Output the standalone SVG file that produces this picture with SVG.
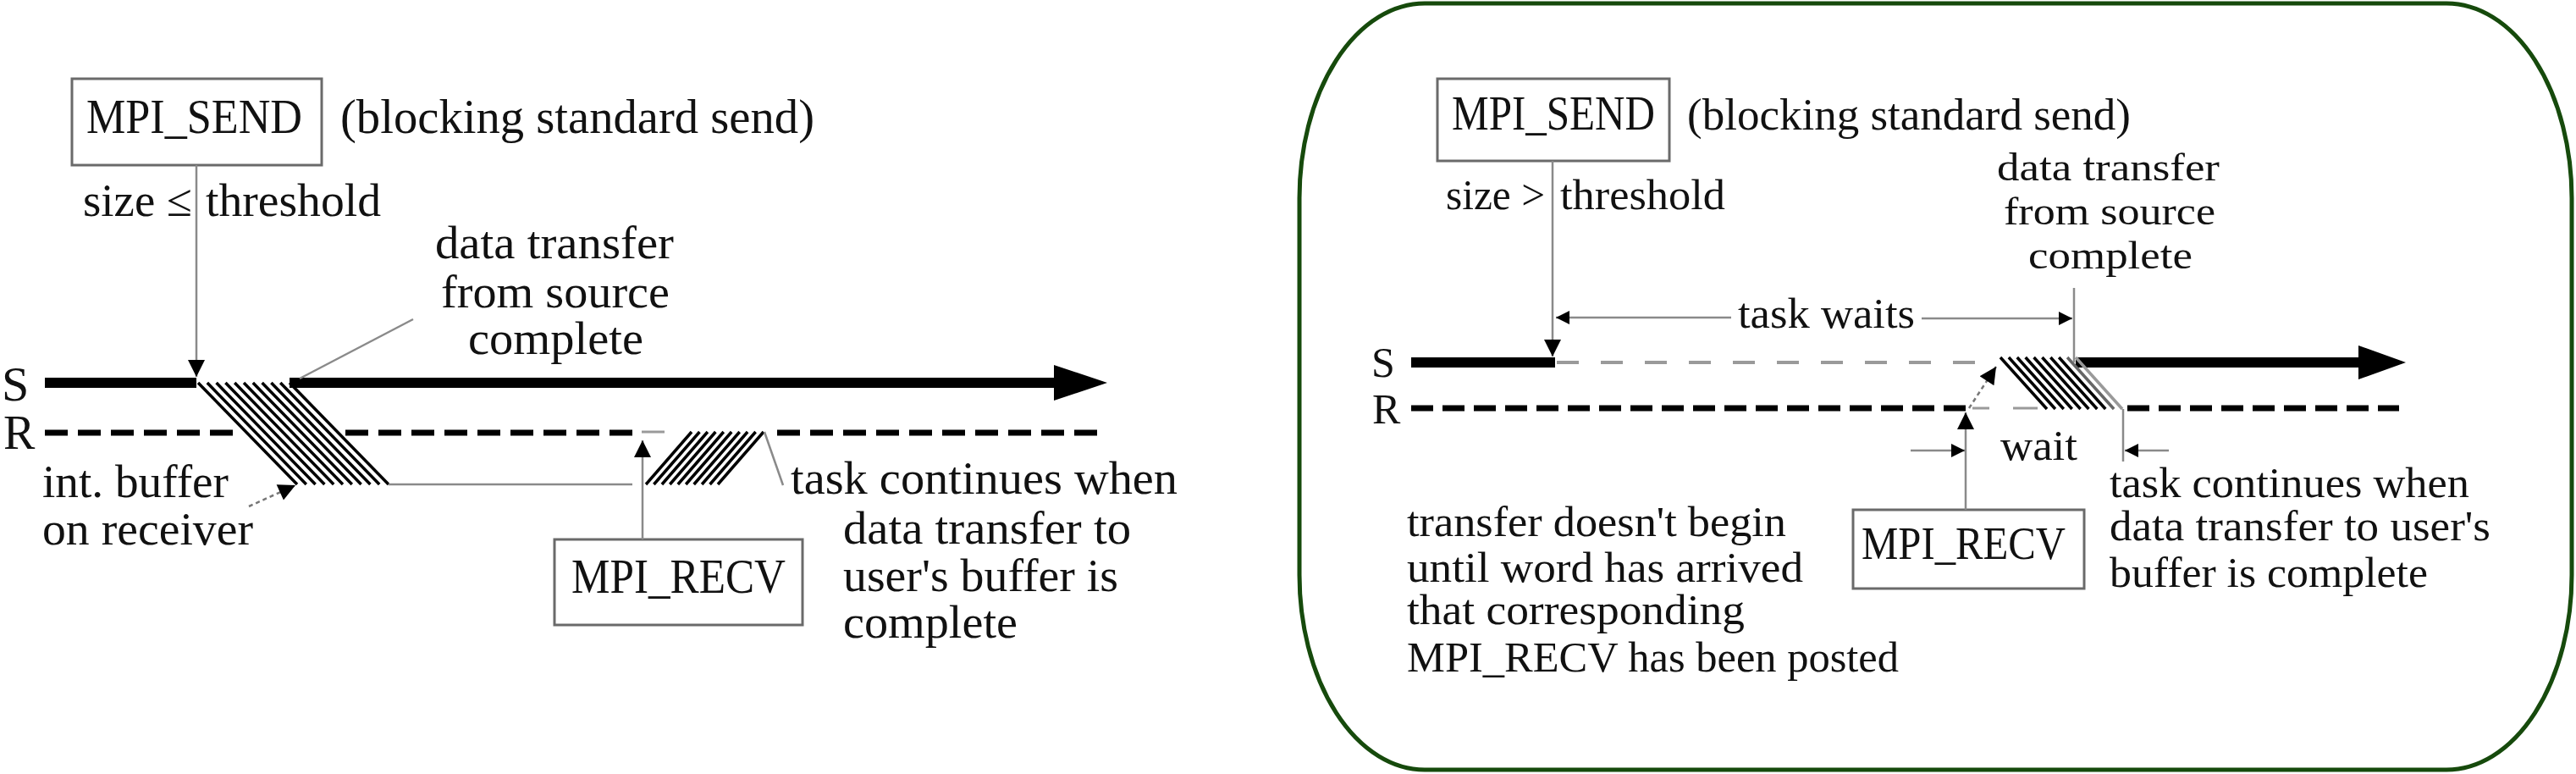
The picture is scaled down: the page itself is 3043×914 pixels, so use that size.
<svg xmlns="http://www.w3.org/2000/svg" width="3043" height="914" viewBox="0 0 3043 914">
<style>
.t{font-family:"Liberation Serif","Times New Roman",serif;fill:#111}
.l{font-size:54px}
.r{font-size:50px}
.box{fill:#fff;stroke:#6a6a6a;stroke-width:3}
.thin{stroke:#8a8a8a;stroke-width:2.5;fill:none}
.dot{stroke:#777;stroke-width:2.5;fill:none;stroke-dasharray:5 4}
.thick{stroke:#000;stroke-width:12;fill:none}
.rdash{stroke:#000;stroke-width:7;fill:none;stroke-dasharray:27 12}
.rdash2{stroke:#000;stroke-width:7;fill:none;stroke-dasharray:26 11}
.gdash{stroke:#9a9a9a;stroke-width:4;fill:none;stroke-dasharray:26 26}
.gthin{stroke:#9a9a9a;stroke-width:3;fill:none}
.hatch line{stroke:#000;stroke-width:3.5}
</style>
<defs>
<marker id="ah" viewBox="0 0 10 10" refX="10" refY="5" markerWidth="22" markerHeight="20" markerUnits="userSpaceOnUse" orient="auto">
<path d="M0,0 L10,5 L0,10 z" fill="#000"/>
</marker>
<marker id="ahs" viewBox="0 0 10 10" refX="10" refY="5" markerWidth="26" markerHeight="16" markerUnits="userSpaceOnUse" orient="auto">
<path d="M0,0 L10,5 L0,10 z" fill="#000"/>
</marker>
</defs>
<rect width="3043" height="914" fill="#fff"/>

<!-- right panel frame -->
<rect id="right-frame" x="1535" y="4" width="1503" height="905" rx="148" ry="230" fill="none" stroke="#164a0c" stroke-width="5"/>

<!-- ===== LEFT PANEL ===== -->
<g id="left-timelines">
<text class="t" x="2" y="473" font-size="58">S</text>
<text class="t" x="4" y="530" font-size="56">R</text>
<path class="thick" d="M53 452 H232"/>
<path class="thick" d="M342 452 H1250"/>
<polygon points="1245,431 1308,452 1245,473" fill="#000"/>
<path class="rdash" d="M53 511 H280"/>
<path class="rdash" d="M408 511 H748"/>
<path class="gthin" d="M758 510 H785"/>
<path class="rdash" d="M918 511 H1300"/>
</g>

<g id="left-hatch-source" class="hatch">
<line x1="234" y1="452" x2="351" y2="572"/>
<line x1="244.8" y1="452" x2="361.8" y2="572"/>
<line x1="255.6" y1="452" x2="372.6" y2="572"/>
<line x1="266.4" y1="452" x2="383.4" y2="572"/>
<line x1="277.2" y1="452" x2="394.2" y2="572"/>
<line x1="288" y1="452" x2="405" y2="572"/>
<line x1="298.8" y1="452" x2="415.8" y2="572"/>
<line x1="309.6" y1="452" x2="426.6" y2="572"/>
<line x1="320.4" y1="452" x2="437.4" y2="572"/>
<line x1="331.2" y1="452" x2="448.2" y2="572"/>
<line x1="342" y1="452" x2="459" y2="572"/>
</g>

<g id="left-hatch-recv" class="hatch">
<line x1="763" y1="572" x2="817" y2="510"/>
<line x1="772.4" y1="572" x2="826.4" y2="510"/>
<line x1="781.9" y1="572" x2="835.9" y2="510"/>
<line x1="791.3" y1="572" x2="845.3" y2="510"/>
<line x1="800.8" y1="572" x2="854.8" y2="510"/>
<line x1="810.2" y1="572" x2="864.2" y2="510"/>
<line x1="819.7" y1="572" x2="873.7" y2="510"/>
<line x1="829.1" y1="572" x2="883.1" y2="510"/>
<line x1="838.6" y1="572" x2="892.6" y2="510"/>
<line x1="848" y1="572" x2="902" y2="510"/>
</g>

<g id="left-send">
<rect class="box" x="85" y="93" width="295" height="102"/>
<text class="t" x="102" y="157" font-size="58" textLength="255" lengthAdjust="spacingAndGlyphs">MPI_SEND</text>
</g>
<g id="left-send-note">
<text class="t" x="402" y="157" font-size="56" textLength="560" lengthAdjust="spacingAndGlyphs">(blocking standard send)</text>
</g>
<g id="left-cond">
<text class="t l" x="98" y="255" textLength="129" lengthAdjust="spacingAndGlyphs">size ≤</text>
<text class="t l" x="243" y="255" textLength="207" lengthAdjust="spacingAndGlyphs">threshold</text>
</g>
<g id="left-src-complete">
<text class="t l" x="514" y="305" textLength="282" lengthAdjust="spacingAndGlyphs">data transfer</text>
<text class="t l" x="521" y="363" textLength="270" lengthAdjust="spacingAndGlyphs">from source</text>
<text class="t l" x="553" y="418" textLength="207" lengthAdjust="spacingAndGlyphs">complete</text>
</g>
<g id="left-buffer">
<text class="t l" x="50" y="587" textLength="220" lengthAdjust="spacingAndGlyphs">int. buffer</text>
<text class="t l" x="50" y="643" textLength="249" lengthAdjust="spacingAndGlyphs">on receiver</text>
</g>
<g id="left-recv">
<rect class="box" x="655" y="637" width="293" height="101"/>
<text class="t" x="675" y="700" font-size="58" textLength="253" lengthAdjust="spacingAndGlyphs">MPI_RECV</text>
</g>
<g id="left-continue">
<text class="t l" x="934" y="583" textLength="457" lengthAdjust="spacingAndGlyphs">task continues when</text>
<text class="t l" x="996" y="642" textLength="340" lengthAdjust="spacingAndGlyphs">data transfer to</text>
<text class="t l" x="996" y="698" textLength="325" lengthAdjust="spacingAndGlyphs">user's buffer is</text>
<text class="t l" x="996" y="753" textLength="206" lengthAdjust="spacingAndGlyphs">complete</text>
</g>

<!-- ===== RIGHT PANEL ===== -->
<g id="right-timelines">
<text class="t" x="1620" y="445" font-size="50">S</text>
<text class="t" x="1621" y="500" font-size="50">R</text>
<path class="thick" d="M1667 428 H1837"/>
<path class="gdash" d="M1839 428 H2334"/>
<path class="thick" d="M2452 428 H2790"/>
<polygon points="2786,408 2842,428 2786,448" fill="#000"/>
<path class="rdash2" d="M1667 482 H2322"/>
<path class="gthin" d="M2330 482 H2350 M2378 482 H2407"/>
<path class="rdash2" d="M2513 482 H2834"/>
</g>

<g id="right-hatch" class="hatch">
<line x1="2363" y1="422" x2="2418" y2="483"/>
<line x1="2372.9" y1="422" x2="2427.9" y2="483"/>
<line x1="2382.8" y1="422" x2="2437.8" y2="483"/>
<line x1="2392.7" y1="422" x2="2447.7" y2="483"/>
<line x1="2402.6" y1="422" x2="2457.6" y2="483"/>
<line x1="2412.4" y1="422" x2="2467.4" y2="483"/>
<line x1="2422.3" y1="422" x2="2477.3" y2="483"/>
<line x1="2432.2" y1="422" x2="2487.2" y2="483"/>
<line x1="2442.1" y1="422" x2="2497.1" y2="483" style="stroke:#666"/>
<line x1="2452" y1="422" x2="2507" y2="483" style="stroke:#999"/>
</g>

<g id="right-send">
<rect class="box" x="1698" y="93" width="274" height="97"/>
<text class="t" x="1715" y="153" font-size="56" textLength="240" lengthAdjust="spacingAndGlyphs">MPI_SEND</text>
</g>
<g id="right-send-note">
<text class="t" x="1993" y="153" font-size="53" textLength="524" lengthAdjust="spacingAndGlyphs">(blocking standard send)</text>
</g>
<g id="right-cond">
<text class="t r" x="1708" y="247" textLength="117" lengthAdjust="spacingAndGlyphs">size &gt;</text>
<text class="t r" x="1843" y="247" textLength="195" lengthAdjust="spacingAndGlyphs">threshold</text>
</g>
<g id="right-src-complete">
<text class="t" font-size="47" x="2359" y="213" textLength="263" lengthAdjust="spacingAndGlyphs">data transfer</text>
<text class="t" font-size="47" x="2367" y="265" textLength="250" lengthAdjust="spacingAndGlyphs">from source</text>
<text class="t" font-size="47" x="2396" y="317" textLength="194" lengthAdjust="spacingAndGlyphs">complete</text>
</g>
<g id="right-waits">
<text class="t r" x="2053" y="387" textLength="209" lengthAdjust="spacingAndGlyphs">task waits</text>
</g>
<g id="right-wait">
<text class="t r" x="2363" y="543" textLength="91" lengthAdjust="spacingAndGlyphs">wait</text>
</g>
<g id="right-recv">
<rect class="box" x="2189" y="602" width="273" height="93"/>
<text class="t" x="2199" y="660" font-size="54" textLength="241" lengthAdjust="spacingAndGlyphs">MPI_RECV</text>
</g>
<g id="right-continue">
<text class="t r" x="2492" y="587" textLength="425" lengthAdjust="spacingAndGlyphs">task continues when</text>
<text class="t r" x="2492" y="638" textLength="450" lengthAdjust="spacingAndGlyphs">data transfer to user's</text>
<text class="t r" x="2492" y="693" textLength="376" lengthAdjust="spacingAndGlyphs">buffer is complete</text>
</g>
<g id="right-note">
<text class="t r" x="1662" y="633" textLength="448" lengthAdjust="spacingAndGlyphs">transfer doesn't begin</text>
<text class="t r" x="1662" y="687" textLength="468" lengthAdjust="spacingAndGlyphs">until word has arrived</text>
<text class="t r" x="1662" y="737" textLength="399" lengthAdjust="spacingAndGlyphs">that corresponding</text>
<text class="t r" x="1662" y="793" textLength="581" lengthAdjust="spacingAndGlyphs">MPI_RECV has been posted</text>
</g>

<!-- ===== CONNECTORS ===== -->
<g id="connectors">
<line class="thin" x1="232" y1="195" x2="232" y2="445" marker-end="url(#ah)"/>
<line class="thin" x1="488" y1="377" x2="354" y2="447"/>
<line class="thin" x1="459" y1="572" x2="747" y2="572"/>
<line class="dot" x1="294" y1="598" x2="349" y2="573" marker-end="url(#ah)"/>
<line class="thin" x1="759" y1="637" x2="759" y2="520" marker-end="url(#ah)"/>
<line class="thin" x1="903" y1="510" x2="925" y2="573"/>

<line class="thin" x1="1834" y1="190" x2="1834" y2="421" marker-end="url(#ah)"/>
<line class="thin" x1="2045" y1="375" x2="1838" y2="375" marker-end="url(#ahs)"/>
<line class="thin" x1="2270" y1="376" x2="2448" y2="376" marker-end="url(#ahs)"/>
<line class="thin" x1="2450" y1="340" x2="2450" y2="428"/>
<line class="thin" x1="2322" y1="602" x2="2322" y2="487" marker-end="url(#ah)"/>
<line class="dot" x1="2326" y1="482" x2="2358" y2="433" marker-end="url(#ah)"/>
<line class="thin" x1="2257" y1="532" x2="2321" y2="532" marker-end="url(#ahs)"/>
<line class="thin" x1="2508" y1="483" x2="2508" y2="545"/>
<line class="thin" x1="2562" y1="532" x2="2510" y2="532" marker-end="url(#ahs)"/>
</g>
</svg>
